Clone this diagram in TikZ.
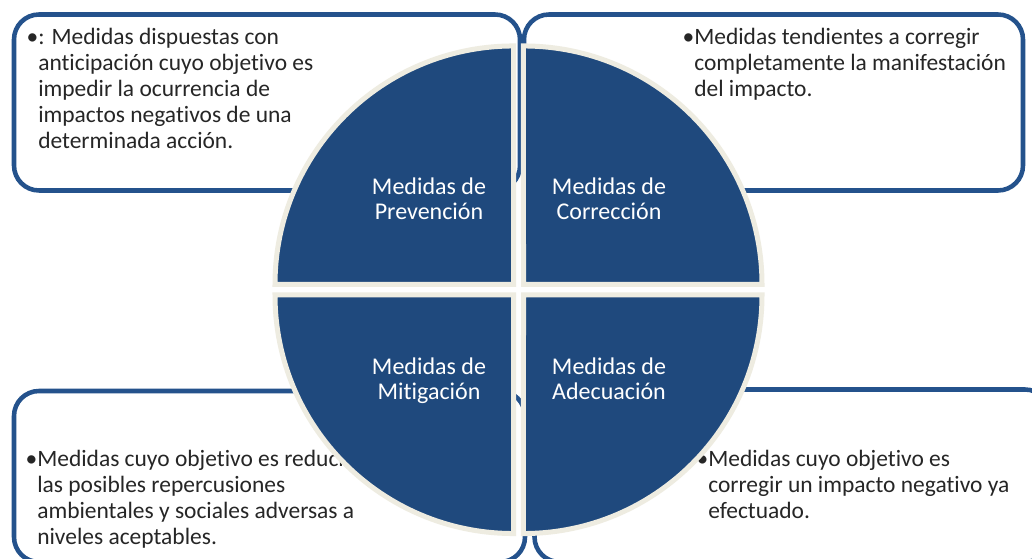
\documentclass[tikz,border=0pt]{standalone}
\usepackage{fontspec}
\setmainfont{Carlito}[Ligatures=NoCommon]
\usetikzlibrary{positioning}

\definecolor{quadblue}{HTML}{1F497D}
\definecolor{panelblue}{HTML}{24528C}
\definecolor{cream}{HTML}{EEECE1}
\definecolor{bodygray}{HTML}{262626}

\begin{document}
\begin{tikzpicture}[
  x=0.75pt, y=-0.75pt,
  panel/.style={draw=panelblue, line width=3.4pt, rounded corners=18.75pt, fill=white},
  quarter/.style={fill=quadblue, draw=cream, line width=3.75pt},
  bodytext/.style={anchor=base west, inner sep=0pt, align=left, text=bodygray,
    font={\fontsize{17.6}{19.5}\selectfont}},
  qlabel/.style={anchor=base, inner sep=0pt, align=center, text=white,
    font={\fontsize{18}{18.75}\selectfont}}
]
  \fill[white] (0,0) rectangle (1032,559);
  \useasboundingbox (0,0) rectangle (1032,559);
  \clip (0,0) rectangle (1032,559);

  % panels sit behind the circle
  \draw[panel] (14,14.5) rectangle (520,190.5);
  \draw[panel] (524,14.5) rectangle (1023,190.5);
  \draw[panel] (14,391) rectangle (525,562);
  \draw[panel] (534.5,389.5) rectangle (1050,562);

  % base = last line
  \node[bodytext] (prevtxt) at (38,149) {\llap{\textbullet}: Medidas dispuestas con\\
    anticipación cuyo objetivo es\\ impedir la ocurrencia de\\
    impactos negativos de una\\ determinada acción.};
  \node[bodytext] (corrtxt) at (694,97) {\llap{\textbullet}Medidas tendientes a corregir\\
    completamente la manifestación\\ del impacto.};
  \node[bodytext] (mititxt) at (37,544) {\llap{\textbullet}Medidas cuyo objetivo es reducir\\
    las posibles repercusiones\\ ambientales y sociales adversas a\\ niveles aceptables.};
  \node[bodytext] (adectxt) at (708,518) {\llap{\textbullet}Medidas cuyo objetivo es\\
    corregir un impacto negativo ya\\ efectuado.};

  % the four quarters of the circle
  \draw[quarter] (513.5,284.5) -- ++(-238.5,0) arc[start angle=180, end angle=90, radius=178.9pt] -- cycle;
  \draw[quarter] (523.5,284.5) -- ++(238.5,0) arc[start angle=0, end angle=90, radius=178.9pt] -- cycle;
  \draw[quarter] (513.5,295) -- ++(-238.5,0) arc[start angle=180, end angle=270, radius=178.9pt] -- cycle;
  \draw[quarter] (523.5,295) -- ++(238.5,0) arc[start angle=0, end angle=-90, radius=178.9pt] -- cycle;

  \node[qlabel] (prev) at (429,220) {Medidas de\\Prevención};
  \node[qlabel] (corr) at (609,220) {Medidas de\\Corrección};
  \node[qlabel] (miti) at (429,400) {Medidas de\\Mitigación};
  \node[qlabel] (adec) at (609,400) {Medidas de\\Adecuación};
\end{tikzpicture}
\end{document}
